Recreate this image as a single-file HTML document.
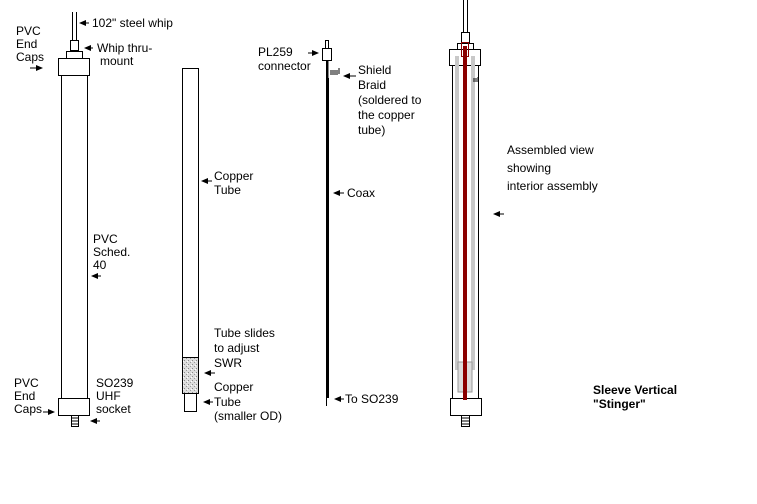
<!DOCTYPE html>
<html><head><style>
body{margin:0;background:#fff;}
svg text{font-family:"Liberation Sans",Arial,sans-serif;font-size:12px;fill:#000;}
</style></head><body>
<svg width="757" height="499" viewBox="0 0 757 499" xmlns="http://www.w3.org/2000/svg">
<defs>
<marker id="ah" markerWidth="7" markerHeight="6" refX="6" refY="3" orient="auto" markerUnits="userSpaceOnUse"><path d="M7,3 L0,0 L0,6 Z" fill="#000"/></marker>
<pattern id="spk" width="4" height="4" patternUnits="userSpaceOnUse"><rect width="4" height="4" fill="#ddd"/><rect x="0" y="0" width="1" height="1" fill="#888"/><rect x="2" y="2" width="1" height="1" fill="#999"/><rect x="3" y="1" width="1" height="1" fill="#fff"/></pattern>
</defs>
<g fill="#fff" stroke="#000" stroke-width="1">
<line x1="72.5" y1="12" x2="72.5" y2="40"/><line x1="76.5" y1="12" x2="76.5" y2="40"/>
<rect x="70.5" y="40.5" width="8" height="10"/>
<rect x="66.5" y="51.5" width="16" height="7"/>
<rect x="58.5" y="58.5" width="31" height="17"/>
<rect x="61.5" y="75.5" width="26" height="323"/>
<rect x="58.5" y="398.5" width="31" height="17"/>
<rect x="71.5" y="415.5" width="7" height="11"/>
<rect x="182.5" y="68.5" width="16" height="325"/>
<rect x="182.5" y="357.5" width="16" height="36" fill="url(#spk)"/>
<rect x="184.5" y="393.5" width="12" height="18"/>
<rect x="325.5" y="40.5" width="3" height="8"/>
<rect x="322.5" y="48.5" width="9" height="12"/>
<rect x="326" y="61" width="3" height="337" fill="#000" stroke="none"/>
<line x1="328.5" y1="61" x2="328.5" y2="78" stroke="#888"/>
<line x1="326.5" y1="398" x2="326.5" y2="406"/>
<line x1="463.5" y1="0" x2="463.5" y2="32"/><line x1="467.5" y1="0" x2="467.5" y2="32"/>
<rect x="461.5" y="32.5" width="8" height="11"/>
<rect x="457.5" y="43.5" width="16" height="6"/>
<rect x="449.5" y="49.5" width="31" height="16"/>
<rect x="452.5" y="65.5" width="26" height="333"/>
<rect x="455" y="56" width="4" height="314" fill="#c8c8c8" stroke="none"/>
<rect x="471" y="56" width="4" height="314" fill="#c8c8c8" stroke="none"/>
<rect x="458" y="362" width="14" height="30" fill="#ddd" stroke="#999"/>
<rect x="450.5" y="398.5" width="31" height="17"/>
<rect x="461.5" y="415.5" width="8" height="11"/>
<rect x="463" y="46" width="4" height="354" fill="#8b0000" stroke="none"/>
<rect x="461.5" y="42.5" width="7" height="14" fill="none" stroke="#8b0000"/>
</g>
<g stroke="#000" stroke-width="1">
<line x1="72" y1="418" x2="78" y2="418"/><line x1="72" y1="421" x2="78" y2="421"/><line x1="72" y1="424" x2="78" y2="424"/>
<line x1="462" y1="418" x2="469" y2="418"/><line x1="462" y1="421" x2="469" y2="421"/><line x1="462" y1="424" x2="469" y2="424"/>
<line x1="331" y1="70" x2="331" y2="75"/><line x1="333" y1="70" x2="333" y2="75"/><line x1="335" y1="70" x2="335" y2="75"/><line x1="337" y1="70" x2="337" y2="75"/><line x1="339" y1="68" x2="339" y2="74"/>
<line x1="474" y1="78" x2="474" y2="82"/><line x1="476" y1="78" x2="476" y2="82"/><line x1="478" y1="77" x2="478" y2="82"/>
</g>
<g stroke="#000" stroke-width="1" marker-end="url(#ah)">
<line x1="89" y1="23" x2="80" y2="23"/>
<line x1="93" y1="48" x2="85" y2="48"/>
<line x1="30" y1="68" x2="42" y2="68"/>
<line x1="43" y1="412" x2="54" y2="412"/>
<line x1="100" y1="421" x2="91" y2="421"/>
<line x1="101" y1="276" x2="92" y2="276"/>
<line x1="212" y1="181" x2="202" y2="181"/>
<line x1="215" y1="373" x2="205" y2="373"/>
<line x1="213" y1="402" x2="204" y2="402"/>
<line x1="308" y1="53" x2="318" y2="53"/>
<line x1="356" y1="76" x2="344" y2="76"/>
<line x1="344" y1="193" x2="334" y2="193"/>
<line x1="344" y1="399" x2="335" y2="399"/>
<line x1="504" y1="214" x2="494" y2="214"/>
</g>
<g>
<text x="92" y="27">102" steel whip</text>
<text x="16" y="35">PVC</text><text x="16" y="48">End</text><text x="16" y="61">Caps</text>
<text x="97" y="52">Whip thru-</text><text x="100" y="65">mount</text>
<text x="93" y="243">PVC</text><text x="93" y="256">Sched.</text><text x="93" y="269">40</text>
<text x="14" y="387">PVC</text><text x="14" y="400">End</text><text x="14" y="413">Caps</text>
<text x="96" y="387">SO239</text><text x="96" y="400">UHF</text><text x="96" y="413">socket</text>
<text x="214" y="180">Copper</text><text x="214" y="194">Tube</text>
<text x="214" y="337">Tube slides</text><text x="214" y="352">to adjust</text><text x="214" y="367">SWR</text>
<text x="214" y="391">Copper</text><text x="214" y="406">Tube</text><text x="214" y="420">(smaller OD)</text>
<text x="258" y="56">PL259</text><text x="258" y="70">connector</text>
<text x="358" y="74">Shield</text><text x="358" y="89">Braid</text><text x="358" y="104">(soldered to</text><text x="358" y="119">the copper</text><text x="358" y="134">tube)</text>
<text x="347" y="197">Coax</text>
<text x="345" y="403">To SO239</text>
<text x="507" y="154">Assembled view</text><text x="507" y="172">showing</text><text x="507" y="190">interior assembly</text>
<text x="593" y="394" style="font-weight:bold">Sleeve Vertical</text><text x="593" y="408" style="font-weight:bold">"Stinger"</text>
</g>
</svg>
</body></html>
